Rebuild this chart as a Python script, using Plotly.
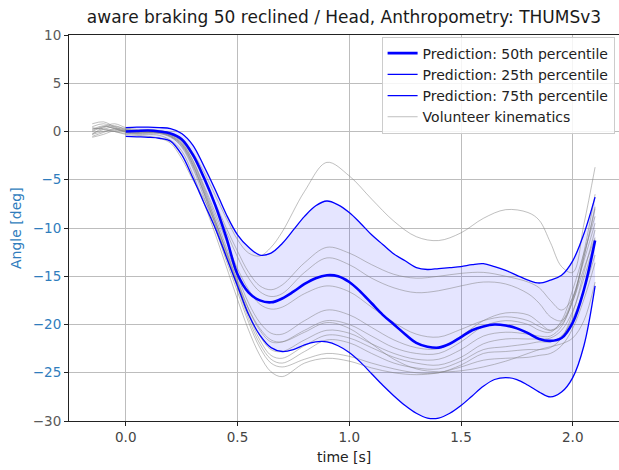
import plotly.graph_objects as go

# ---- prediction corridor (time in s, head angle in deg) ----
t_pred = [0.0, 0.05, 0.1, 0.15, 0.2, 0.25, 0.3, 0.35, 0.4, 0.45, 0.5, 0.55, 0.6, 0.65, 0.7,
          0.75, 0.8, 0.85, 0.9, 0.95, 1.0, 1.05, 1.1, 1.15, 1.2, 1.25, 1.3, 1.35, 1.4, 1.45,
          1.5, 1.55, 1.6, 1.65, 1.7, 1.75, 1.8, 1.85, 1.9, 1.95, 2.0, 2.05, 2.1]

p50 = [0.0, 0.05, 0.1, 0.0, -0.2, -0.8, -2.4, -4.8, -7.6, -11.0, -14.8, -16.7, -17.5, -17.7, -17.3,
       -16.6, -15.8, -15.2, -14.9, -15.0, -15.6, -16.6, -17.8, -19.0, -20.0, -21.0, -21.9, -22.3, -22.4, -22.0,
       -21.3, -20.6, -20.2, -20.0, -20.1, -20.4, -20.9, -21.5, -21.7, -21.4, -19.8, -16.4, -11.3]

p25 = [0.4, 0.45, 0.45, 0.4, 0.3, -0.2, -1.4, -3.6, -6.0, -8.6, -10.7, -12.0, -12.8, -12.6, -11.6,
       -10.2, -8.8, -7.7, -7.2, -7.6, -8.4, -9.5, -10.7, -11.7, -12.7, -13.4, -14.1, -14.3, -14.2, -14.1,
       -14.0, -13.8, -13.7, -14.0, -14.4, -14.9, -15.4, -15.7, -15.4, -14.9, -13.4, -10.6, -6.8]

p75 = [-0.5, -0.55, -0.6, -0.7, -1.0, -2.4, -4.8, -7.4, -10.0, -13.0, -16.0, -19.0, -21.1, -22.4, -22.8,
       -22.6, -22.1, -21.8, -21.8, -22.2, -22.9, -23.9, -25.1, -26.3, -27.4, -28.4, -29.2, -29.7, -29.7, -29.2,
       -28.4, -27.4, -26.4, -25.7, -25.5, -25.7, -26.3, -27.0, -27.5, -27.0, -25.5, -22.2, -16.0]

# ---- volunteer kinematics ----
t_vol = [-0.15, -0.1, -0.05, 0.0, 0.05, 0.1, 0.15, 0.2, 0.25, 0.3, 0.35, 0.4, 0.45, 0.5, 0.55,
         0.6, 0.65, 0.7, 0.8, 0.9, 1.0, 1.1, 1.2, 1.3, 1.4, 1.5, 1.6, 1.7, 1.8, 1.85,
         1.9, 1.95, 2.0, 2.05, 2.1]

vol_01 = [-0.3, 0.4, 0.6, 0.2, 0.1, 0.2, 0.1, -0.2, -0.8, -2.2, -4.2, -6.6, -9.0, -11.2, -12.6,
          -12.9, -12.0, -10.4, -6.2, -3.2, -4.6, -7.0, -9.3, -10.9, -11.3, -10.5, -9.0, -8.1, -8.4, -9.2,
          -11.5, -14.0, -14.6, -9.6, -3.7]
vol_02 = [0.2, 0.6, 0.3, 0.0, -0.1, 0.0, 0.0, -0.3, -1.0, -2.6, -4.8, -7.4, -10.0, -12.4, -14.6,
          -16.0, -16.4, -15.9, -13.6, -12.0, -12.6, -13.8, -14.8, -15.2, -15.0, -14.7, -14.6, -15.0, -15.6, -16.2,
          -17.5, -18.5, -17.2, -12.5, -6.5]
vol_03 = [0.8, 1.0, 0.5, 0.1, 0.0, 0.1, 0.1, -0.2, -0.9, -2.5, -4.8, -7.6, -10.4, -13.0, -15.2,
          -16.6, -17.1, -16.8, -14.6, -13.1, -13.8, -15.2, -16.2, -16.7, -16.5, -16.0, -15.6, -15.8, -16.8, -17.8,
          -19.2, -19.6, -17.6, -13.0, -8.0]
vol_04 = [-0.5, -0.1, 0.3, 0.2, 0.0, -0.1, -0.1, -0.4, -1.2, -3.0, -5.6, -8.4, -11.4, -14.2, -16.4,
          -17.9, -18.4, -18.2, -16.8, -16.0, -16.6, -18.2, -19.8, -21.0, -21.3, -20.5, -19.6, -19.2, -19.6, -20.2,
          -20.6, -19.8, -17.2, -13.4, -9.5]
vol_05 = [0.0, 0.5, 0.8, 0.4, 0.2, 0.1, 0.0, -0.3, -1.1, -3.0, -5.8, -8.8, -12.0, -15.0, -17.8,
          -19.8, -20.9, -21.0, -19.6, -18.5, -19.0, -20.3, -21.6, -22.4, -22.5, -21.2, -19.6, -18.8, -19.0, -19.8,
          -20.6, -20.0, -17.6, -14.2, -11.0]
vol_06 = [-0.2, 0.2, 0.5, 0.3, 0.1, 0.0, -0.1, -0.5, -1.4, -3.4, -6.2, -9.2, -12.4, -15.4, -18.4,
          -20.6, -21.8, -21.8, -20.6, -19.6, -20.0, -21.2, -22.4, -23.0, -23.0, -21.8, -20.2, -19.6, -20.0, -20.6,
          -20.8, -19.6, -16.4, -12.6, -8.8]
vol_07 = [0.5, 0.8, 0.4, 0.0, -0.2, -0.2, -0.2, -0.6, -1.5, -3.6, -6.4, -9.6, -12.8, -15.8, -18.8,
          -21.2, -22.6, -22.8, -21.6, -20.6, -20.9, -22.0, -23.0, -23.6, -23.6, -22.6, -21.2, -20.8, -21.0, -21.2,
          -21.2, -20.2, -17.4, -13.0, -7.8]
vol_08 = [-0.3, 0.0, 0.2, 0.0, -0.1, -0.1, -0.2, -0.5, -1.3, -3.2, -6.0, -9.2, -12.6, -15.8, -19.0,
          -21.6, -23.2, -23.5, -22.2, -21.1, -21.4, -22.4, -23.4, -24.0, -24.2, -23.4, -22.0, -21.5, -21.5, -21.5,
          -21.4, -20.6, -18.6, -15.2, -11.2]
vol_09 = [0.3, 0.3, 0.0, -0.2, -0.2, -0.1, -0.1, -0.4, -1.3, -3.4, -6.4, -9.6, -13.0, -16.2, -19.4,
          -22.0, -23.6, -24.0, -22.8, -21.6, -21.9, -23.0, -24.0, -24.5, -24.6, -23.8, -22.6, -22.3, -22.0, -21.8,
          -21.8, -21.2, -19.4, -16.4, -12.8]
vol_10 = [-0.6, -0.3, 0.1, 0.1, 0.0, 0.0, -0.1, -0.5, -1.6, -3.8, -6.8, -10.0, -13.4, -16.6, -19.8,
          -22.4, -24.0, -24.4, -23.6, -23.0, -23.3, -24.0, -24.6, -25.0, -25.0, -24.2, -23.0, -22.8, -22.6, -22.6,
          -22.4, -21.4, -18.8, -14.6, -10.2]
vol_11 = [0.1, 0.5, 0.3, -0.1, -0.3, -0.3, -0.4, -0.9, -2.0, -4.4, -7.4, -10.6, -14.0, -17.4, -20.6,
          -23.2, -24.9, -25.4, -24.0, -23.5, -23.8, -24.5, -25.0, -25.2, -25.0, -24.4, -23.7, -23.5, -23.4, -23.2,
          -23.0, -22.2, -20.4, -17.4, -13.6]
vol_12 = [0.4, 0.2, 0.0, -0.3, -0.4, -0.5, -0.7, -1.2, -2.8, -5.0, -7.0, -9.4, -12.4, -15.6, -18.4,
          -20.4, -21.6, -21.8, -20.8, -19.8, -20.4, -22.0, -23.6, -24.6, -24.9, -24.8, -24.4, -23.8, -23.0, -22.6,
          -22.3, -22.0, -21.4, -19.6, -15.6]

volunteers = [vol_01, vol_02, vol_03, vol_04, vol_05, vol_06,
              vol_07, vol_08, vol_09, vol_10, vol_11, vol_12]

y_ticks = [10, 5, 0, -5, -10, -15, -20, -25, -30]
x_ticks = [0.0, 0.5, 1.0, 1.5, 2.0]

BLUE = "#0000ff"
FONT = "DejaVu Sans"
GREY_TXT = "#5a5a5a"
BLUE_TXT = "#2f7dbd"

fig = go.Figure()

# shaded corridor between the 25th and 75th percentile predictions
fig.add_trace(go.Scatter(x=t_pred, y=p25, mode="lines", line=dict(width=0, shape="spline"),
                         showlegend=False, hoverinfo="skip"))
fig.add_trace(go.Scatter(x=t_pred, y=p75, mode="lines", line=dict(width=0, shape="spline"),
                         fill="tonexty", fillcolor="rgba(0,0,255,0.10)",
                         showlegend=False, hoverinfo="skip"))

# volunteer traces
for i, v in enumerate(volunteers):
    fig.add_trace(go.Scatter(x=t_vol, y=v, mode="lines",
                             line=dict(color="rgba(128,128,128,0.5)", width=1, shape="spline"),
                             name="Volunteer kinematics", legendgroup="vol",
                             showlegend=(i == 0), legendrank=4))

fig.add_trace(go.Scatter(x=t_pred, y=p25, mode="lines",
                         line=dict(color=BLUE, width=1.3, shape="spline"),
                         name="Prediction: 25th percentile", legendrank=2))
fig.add_trace(go.Scatter(x=t_pred, y=p75, mode="lines",
                         line=dict(color=BLUE, width=1.3, shape="spline"),
                         name="Prediction: 75th percentile", legendrank=3))
fig.add_trace(go.Scatter(x=t_pred, y=p50, mode="lines",
                         line=dict(color=BLUE, width=2.6, shape="spline"),
                         name="Prediction: 50th percentile", legendrank=1))


def ylabel(v):
    txt = str(v).replace("-", "\u2212")
    col = BLUE_TXT if -25 <= v <= -5 else GREY_TXT
    return f'<span style="color:{col}">{txt}</span>'


fig.update_layout(
    width=619, height=470,
    margin=dict(l=69, r=0, t=35, b=49),
    plot_bgcolor="white", paper_bgcolor="white",
    font=dict(family=FONT, size=14, color="#333333"),
    title=dict(text="aware braking 50 reclined / Head, Anthropometry: THUMSv3",
               x=0.5, xref="paper", xanchor="center",
               y=1 - 17 / 470, yref="container", yanchor="middle",
               font=dict(family=FONT, size=17, color="#1a1a1a")),
    legend=dict(x=0.992, y=0.996, xanchor="right", yanchor="top",
                bgcolor="rgba(255,255,255,0.85)", bordercolor="#cccccc", borderwidth=1,
                font=dict(family=FONT, size=14, color="#222222"),
                tracegroupgap=0, itemwidth=30),
    showlegend=True,
)

fig.update_xaxes(range=[-0.254, 2.207], tickvals=x_ticks, ticktext=[f"{v:.1f}" for v in x_ticks],
                 showgrid=True, gridcolor="#bdbdbd", gridwidth=1, zeroline=False,
                 showline=True, linecolor="#222222", linewidth=1, mirror=True,
                 ticks="outside", ticklen=4, tickcolor="#222222",
                 tickfont=dict(family=FONT, size=13.5, color="#444444"))
fig.update_yaxes(range=[-30, 10], tickvals=y_ticks, ticktext=[ylabel(v) for v in y_ticks],
                 showgrid=True, gridcolor="#bdbdbd", gridwidth=1, zeroline=False,
                 showline=True, linecolor="#222222", linewidth=1,
                 ticks="outside", ticklen=4, tickcolor="#222222",
                 tickfont=dict(family=FONT, size=13.5, color=GREY_TXT))

# axis titles placed relative to the plot area
fig.add_annotation(text="time [s]", x=0.5, xref="paper", y=-(457 - 421) / 386, yref="paper",
                   yanchor="middle", showarrow=False,
                   font=dict(family=FONT, size=14, color="#222222"))
fig.add_annotation(text="Angle [deg]", textangle=-90, x=-(69 - 16) / 550, xref="paper",
                   xanchor="center", y=0.5, yref="paper", showarrow=False,
                   font=dict(family=FONT, size=14, color=BLUE_TXT))

fig.write_html("out.html")
